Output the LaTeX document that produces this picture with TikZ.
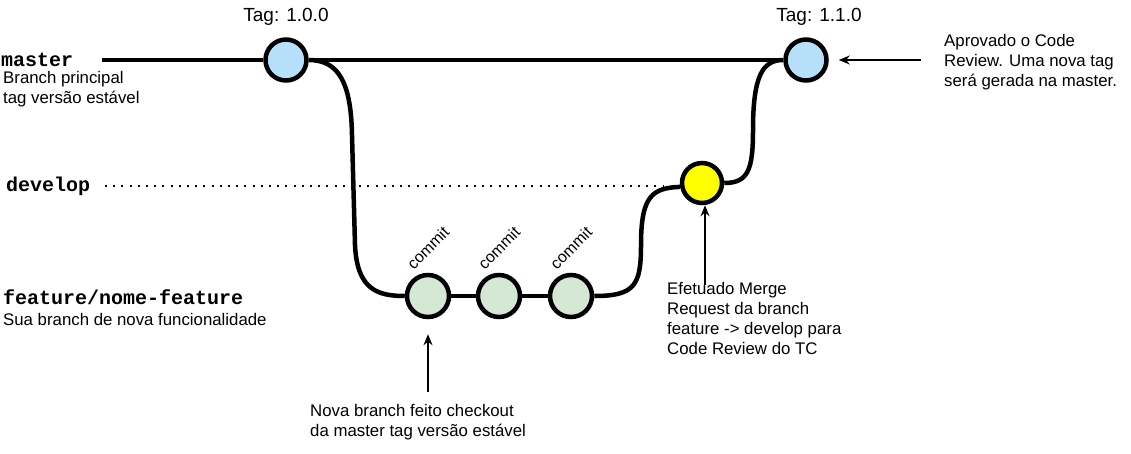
\documentclass[tikz,border=0pt]{standalone}
\usepackage{fontspec}
\setmainfont{Liberation Sans}
\setmonofont{Liberation Mono}
\usetikzlibrary{arrows.meta}
\definecolor{tagblue}{HTML}{B6E0FA}
\definecolor{commitgreen}{HTML}{D5E8D4}
\definecolor{mergeyellow}{HTML}{FFFF00}

\tikzset{
  tag/.style={circle, draw, line width=4.5pt, fill=tagblue, minimum size=41pt, inner sep=0pt},
  commit/.style={circle, draw, line width=4.5pt, fill=commitgreen, minimum size=42pt, inner sep=0pt},
  merge/.style={circle, draw, line width=4.5pt, fill=mergeyellow, minimum size=40pt, inner sep=0pt},
  branch/.style={line width=4.5pt},
  devline/.style={line width=2pt, dash pattern=on 2pt off 6.2pt},
  mono/.style={font=\fontsize{20}{20}\selectfont\ttfamily\bfseries, inner sep=0pt, anchor=west},
  note/.style={font=\fontsize{16.8}{20}\selectfont, align=left, inner sep=0pt, anchor=west},
  arr/.style={line width=1.3pt, -{Stealth[length=11pt,width=9pt]}},
}

\begin{document}
\begin{tikzpicture}[x=1pt, y=-1pt]
  \useasboundingbox (0,0) rectangle (1131,453);

  % commits
  \node[tag] (t100) at (286,60) {};
  \node[tag] (t110) at (806,60) {};
  \node[merge] (dev) at (702,183) {};
  \foreach \i/\x in {1/428,2/499,3/571} {
    \node[commit] (c\i) at (\x,296) {};
    \node[rotate=45, font=\fontsize{16}{16}\selectfont, inner sep=0pt] (cl\i) at (\x,248) {commit};
  }

  \node[font=\fontsize{19}{20}\selectfont, inner sep=0pt] (tag1) at (286,17) {Tag: 1.0.0};
  \node[font=\fontsize{19}{20}\selectfont, inner sep=0pt] (tag2) at (819,17) {Tag: 1.1.0};

  % branch names
  \node[mono] (master) at (1,60) {master};
  \node[note] (masterdesc) at (3,89) {Branch principal\\tag versão estável};
  \node[mono] (develop) at (6,186) {develop};
  \node[mono] (feature) at (3,297) {feature/nome-feature};
  \node[note] (featuredesc) at (3,319) {Sua branch de nova funcionalidade};

  % notes
  \node[note] (nota1) at (310,422) {Nova branch feito checkout\\da master tag versão estável};
  \node[note] (nota2) at (667,318) {Efetuado Merge\\Request da branch\\feature -> develop para\\Code Review do TC};
  \node[note] (nota3) at (944,62) {Aprovado o Code\\Review. Uma nova tag\\será gerada na master.};

  \coordinate (mstart) at (102,60);
  \coordinate (dstart) at (105,186);
  \coordinate (dend) at (664,186);
  \coordinate (a1) at (428,392);
  \coordinate (a2) at (705,285);
  \coordinate (a3) at (921,60);

  % master
  \draw[branch] (mstart) -- (t100) -- (t110);
  % develop
  \draw[devline] (dstart) -- (dend);
  % feature
  \draw[branch] (t100.east) .. controls (340,60) and (351,85) .. (352,135)
    -- (355,245) .. controls (357,290) and (378,296) .. (c1.west);
  \draw[branch] (c1) -- (c2) -- (c3);
  \draw[branch] (c3.east) .. controls (635,296) and (641,285) .. (641,245)
    .. controls (641,196) and (652,188) .. (dev.190);
  \draw[branch] (dev.east) .. controls (748,183) and (753,170) .. (753,130)
    .. controls (753,75) and (763,60) .. (t110.west);

  % arrows
  \draw[arr, shorten >=15pt] (a1) -- (c1);
  \draw[arr] (a2) -- (a2 |- dev.south);
  \draw[arr, shorten >=10pt] (a3) -- (t110);
\end{tikzpicture}
\end{document}
